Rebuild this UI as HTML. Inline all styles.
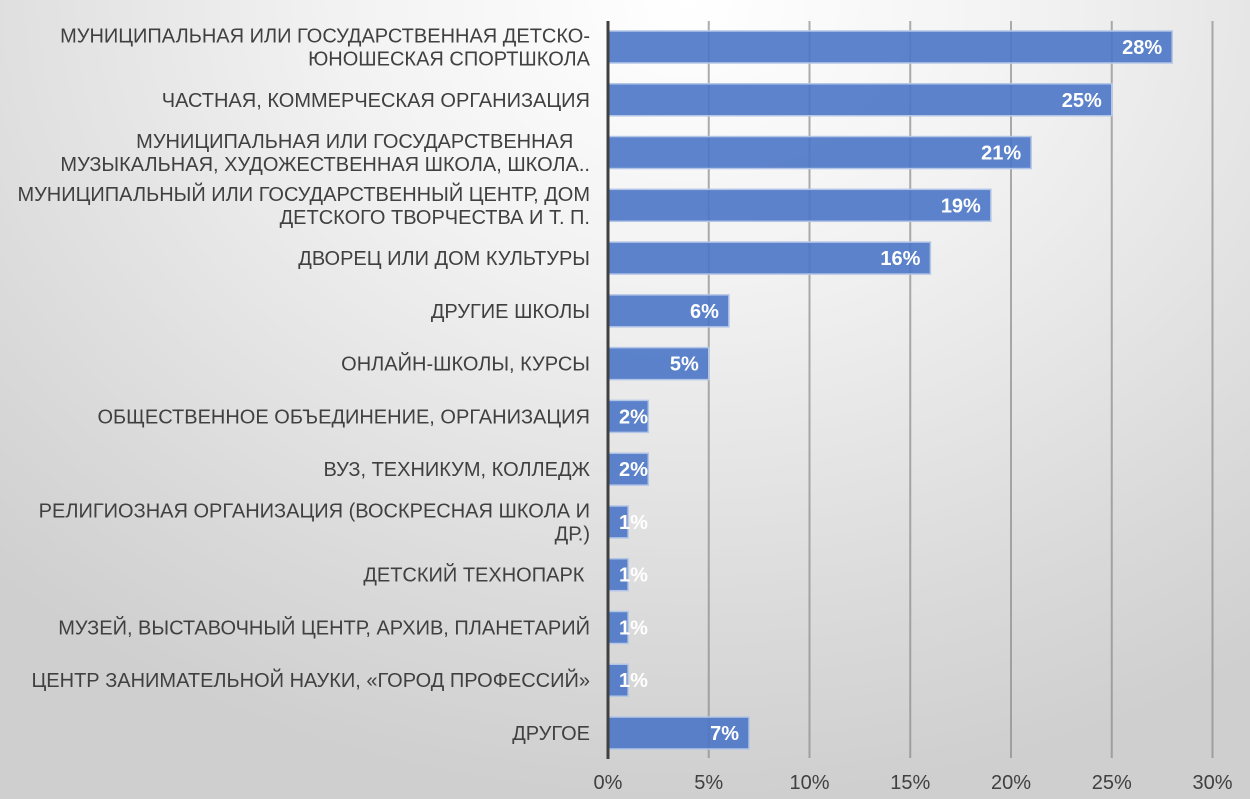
<!DOCTYPE html>
<html><head><meta charset="utf-8"><style>
body{margin:0}
#c{width:1250px;height:799px;background:radial-gradient(ellipse 80% 100% at 55% 0%,#ffffff 0%,#f2f2f2 35%,#d9d9d9 80%,#cfcfcf 100%);position:relative;overflow:hidden}
text{font-family:"Liberation Sans",sans-serif;white-space:pre}
</style></head><body>
<div id="c">
<svg id="s" width="1250" height="799"></svg>
</div>
<script>
const categories=[
["МУНИЦИПАЛЬНАЯ ИЛИ ГОСУДАРСТВЕННАЯ ДЕТСКО-","ЮНОШЕСКАЯ СПОРТШКОЛА"],
["ЧАСТНАЯ, КОММЕРЧЕСКАЯ ОРГАНИЗАЦИЯ"],
["МУНИЦИПАЛЬНАЯ ИЛИ ГОСУДАРСТВЕННАЯ   ","МУЗЫКАЛЬНАЯ, ХУДОЖЕСТВЕННАЯ ШКОЛА, ШКОЛА.."],
["МУНИЦИПАЛЬНЫЙ ИЛИ ГОСУДАРСТВЕННЫЙ ЦЕНТР, ДОМ","ДЕТСКОГО ТВОРЧЕСТВА И Т. П."],
["ДВОРЕЦ ИЛИ ДОМ КУЛЬТУРЫ"],
["ДРУГИЕ ШКОЛЫ"],
["ОНЛАЙН-ШКОЛЫ, КУРСЫ"],
["ОБЩЕСТВЕННОЕ ОБЪЕДИНЕНИЕ, ОРГАНИЗАЦИЯ"],
["ВУЗ, ТЕХНИКУМ, КОЛЛЕДЖ"],
["РЕЛИГИОЗНАЯ ОРГАНИЗАЦИЯ (ВОСКРЕСНАЯ ШКОЛА И","ДР.)"],
["ДЕТСКИЙ ТЕХНОПАРК "],
["МУЗЕЙ, ВЫСТАВОЧНЫЙ ЦЕНТР, АРХИВ, ПЛАНЕТАРИЙ"],
["ЦЕНТР ЗАНИМАТЕЛЬНОЙ НАУКИ, «ГОРОД ПРОФЕССИЙ»"],
["ДРУГОЕ"]];
const values=[28,25,21,19,16,6,5,2,2,1,1,1,1,7];
const ticks=[0,5,10,15,20,25,30];
const tickLabels=["0%","5%","10%","15%","20%","25%","30%"];
const s=document.getElementById('s');const NS='http://www.w3.org/2000/svg';
function x(v){return 608+v*20.15;}
function yc(i){return 47+i*52.77;}
function el(t,a,p){const e=document.createElementNS(NS,t);for(const k in a)e.setAttribute(k,a[k]);(p||s).appendChild(e);return e;}
ticks.forEach((t,i)=>{
 if(t>0){const g=el('line',{x1:x(t),x2:x(t),y1:21,y2:758,stroke:'#8a8a8a','stroke-opacity':0.7,'stroke-width':2});
 
 }
 const l=el('text',{x:x(t),y:789,'text-anchor':'middle','font-size':20,fill:'#404040'});l.textContent=tickLabels[i];
 
 
});
values.forEach((v,i)=>{
 const y=yc(i);
 const r=el('rect',{x:x(0),y:y-16,width:x(v)-x(0),height:32,fill:'#4a76c5','fill-opacity':0.9,stroke:'#b4c6e7','stroke-width':1.5});
 
 
 const lab=v+'%';
 const t=el('text',{x:0,y:y+7,'font-size':20,'font-weight':'bold',fill:'#fff'});t.textContent=lab;
 const w=t.getComputedTextLength();
 t.setAttribute('x',Math.max(x(v)-10-w,619));
 
 
 const lines=categories[i];
 lines.forEach((ln,j)=>{
  const c=el('text',{x:590,y:y+7+(j-(lines.length-1)/2)*23,'text-anchor':'end','font-size':20,fill:'#404040'});c.textContent=ln;
  
  
 });
});
const ax=el('line',{x1:608,x2:608,y1:21,y2:759,stroke:'#404040','stroke-width':3});


</script>
</body></html>
